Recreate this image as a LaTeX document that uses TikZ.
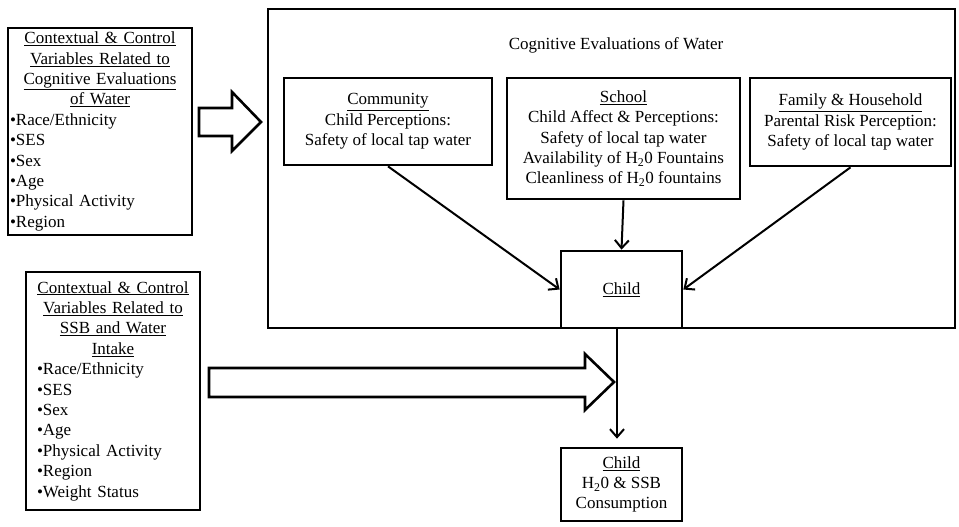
\documentclass[tikz,border=0pt]{standalone}
\usepackage{fontspec}
\setmainfont{Liberation Serif}
\usetikzlibrary{arrows.meta,calc}
\begin{document}
\begin{tikzpicture}[x=1pt,y=-1pt,
  txt/.style={font=\fontsize{17}{20.4}\selectfont},
  boxn/.style={draw,line width=2.7pt,rectangle,inner sep=0pt,txt,align=center},
  arr/.style={line width=2pt,-{Straight Barb[length=8pt,width=14pt,line width=2pt]}},
  hollow/.style={draw,line width=2.6pt,line join=miter,fill=white}]
\useasboundingbox (0,0) rectangle (959,527);

% big container
\node[boxn,minimum width=687pt,minimum height=319pt] (big) at (611.5,168.5) {};
\node[txt,anchor=base] (title) at (616,50) {Cognitive Evaluations of Water};

% left boxes
\node[draw,line width=2.7pt,rectangle,inner xsep=2pt,inner ysep=0pt,txt,text width=180pt,minimum height=207pt] (ctx1) at (100,131.5)
 {\centering\underline{Contextual \& Control}\\\underline{Variables Related to}\\\underline{Cognitive Evaluations}\\\underline{of Water}\par
  \raggedright\textbullet Race/Ethnicity\\\textbullet SES\\\textbullet Sex\\\textbullet Age\\\textbullet Physical Activity\\\textbullet Region\par};

\node[draw,line width=2.7pt,rectangle,inner xsep=11pt,inner ysep=0pt,txt,text width=152pt,minimum height=238pt] (ctx2) at (113,391)
 {\centering\underline{Contextual \& Control}\\\underline{Variables Related to}\\\underline{SSB and Water}\\\underline{Intake}\par
  \raggedright\textbullet Race/Ethnicity\\\textbullet SES\\\textbullet Sex\\\textbullet Age\\\textbullet Physical Activity\\\textbullet Region\\\textbullet Weight Status\par};

% inner boxes
\node[boxn,minimum width=208pt,minimum height=87pt] (comm) at (388,121.5)
 {\underline{Community}\\Child Perceptions:\\Safety of local tap water};
\node[boxn,minimum width=233pt,minimum height=121pt] (school) at (623.5,138.5)
 {\underline{School}\\Child Affect \& Perceptions:\\Safety of local tap water\\Availability of H\textsubscript{2}0 Fountains\\Cleanliness of H\textsubscript{2}0 fountains};
\node[boxn,minimum width=201pt,minimum height=88pt] (family) at (850.5,122)
 {\underline{Family \& Household}\\Parental Risk Perception:\\Safety of local tap water};
\node[boxn,minimum width=121pt,minimum height=77pt] (child) at (621.5,289.5)
 {\underline{Child}};
\node[boxn,minimum width=121pt,minimum height=73pt] (cons) at (621.5,484.5)
 {\underline{Child}\\H\textsubscript{2}0 \& SSB\\Consumption};

% connectors
\draw[arr] (comm.south) -- (child.west);
\draw[arr] (school.south) -- (child.north);
\draw[arr] (family.south) -- (child.east);
\draw[arr] ([xshift=-4.5pt]child.south) -- ([xshift=-4.5pt,yshift=8pt]cons.north);

% hollow block arrows
\draw[hollow] (199,108) -- (232,108) -- (232,92) -- (261,122) -- (232,151) -- (232,136) -- (199,136) -- cycle;
\draw[hollow] (209,368) -- (585,368) -- (585,354) -- (614,382) -- (585,410) -- (585,397) -- (209,397) -- cycle;
\end{tikzpicture}
\end{document}
